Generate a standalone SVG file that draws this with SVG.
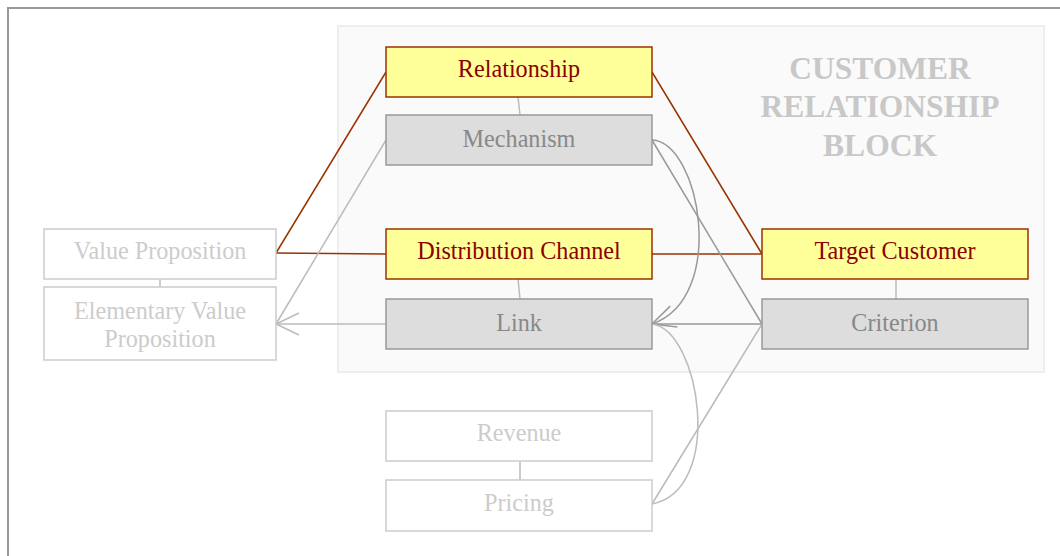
<svg xmlns="http://www.w3.org/2000/svg" width="1060" height="556" viewBox="0 0 1060 556">
<defs>
<style>
text{font-family:"Liberation Serif","Times New Roman",serif;font-size:24.2px;text-anchor:middle}
.hi rect{fill:#ffff99;stroke:#993300;stroke-width:1.5}
.hi text{fill:#8b0000}
.mid rect{fill:#dddddd;stroke:#999999;stroke-width:1.5}
.mid text{fill:#888888}
.lo rect{fill:#ffffff;stroke:#cccccc;stroke-width:1.5}
.lo text{fill:#cccccc}
.title{font-weight:bold;font-size:31.5px;fill:#c8c8c8}
.br{stroke:#993300;stroke-width:1.5;fill:none}
.dk{stroke:#999999;stroke-width:1.5;fill:none}
.lt{stroke:#bbbbbb;stroke-width:1.5;fill:none}
</style>
<marker id="arD" markerUnits="userSpaceOnUse" orient="auto" refX="0" refY="0" markerWidth="30" markerHeight="30" viewBox="-25 -15 30 30" overflow="visible">
<path d="M-23,-11 L0,0 L-23,11" fill="none" stroke="#999999" stroke-width="1.5"/>
</marker>
<marker id="arL" markerUnits="userSpaceOnUse" orient="auto" refX="0" refY="0" markerWidth="30" markerHeight="30" viewBox="-25 -15 30 30" overflow="visible">
<path d="M-23,-11 L0,0 L-23,11" fill="none" stroke="#bbbbbb" stroke-width="1.5"/>
</marker>
</defs>
<rect x="0" y="0" width="1060" height="556" fill="#ffffff"/>
<rect x="8" y="8" width="1100" height="600" fill="none" stroke="#999999" stroke-width="2"/>
<g id="block">
<rect x="338" y="26" width="706" height="346" fill="#fafafa" stroke="#eeeeee" stroke-width="2"/>
<text class="title" x="880" y="79">CUSTOMER</text>
<text class="title" x="880" y="117">RELATIONSHIP</text>
<text class="title" x="880" y="156">BLOCK</text>
</g>
<g id="connectors">
<line class="br" x1="386" y1="72" x2="276" y2="253"/>
<line class="br" x1="386" y1="254" x2="276" y2="253"/>
<line class="br" x1="652" y1="72" x2="762" y2="254"/>
<line class="br" x1="652" y1="254" x2="762" y2="254"/>
<line class="lt" x1="518" y1="97" x2="520" y2="115"/>
<line class="lt" x1="518" y1="279" x2="520" y2="299"/>
<line class="lt" x1="896" y1="279" x2="896" y2="299"/>
<line class="lt" x1="520" y1="461" x2="520" y2="480"/>
<line class="lt" x1="160" y1="279" x2="160" y2="287"/>
<line class="lt" x1="386" y1="140" x2="276" y2="324"/>
<line class="lt" x1="386" y1="324" x2="276" y2="324" marker-end="url(#arL)"/>
<path class="dk" d="M652,140 C700,142 728,298 652,324" marker-end="url(#arD)"/>
<line class="dk" x1="652" y1="140" x2="762" y2="324"/>
<line class="dk" x1="762" y1="324" x2="652" y2="324"/>
<path class="lt" d="M652,324 C700,330 725,490 652,504"/>
<line class="lt" x1="652" y1="504" x2="762" y2="324"/>
</g>
<g id="relationship" class="hi"><rect x="386" y="47" width="266" height="50"/><text x="519" y="77">Relationship</text></g>
<g id="mechanism" class="mid"><rect x="386" y="115" width="266" height="50"/><text x="519" y="146.5">Mechanism</text></g>
<g id="distribution-channel" class="hi"><rect x="386" y="229" width="266" height="50"/><text x="519" y="259">Distribution Channel</text></g>
<g id="link" class="mid"><rect x="386" y="299" width="266" height="50"/><text x="519" y="330.5">Link</text></g>
<g id="target-customer" class="hi"><rect x="762" y="229" width="266" height="50"/><text x="895" y="259">Target Customer</text></g>
<g id="criterion" class="mid"><rect x="762" y="299" width="266" height="50"/><text x="895" y="330.5">Criterion</text></g>
<g id="value-proposition" class="lo"><rect x="44" y="229" width="232" height="50"/><text x="160" y="259">Value Proposition</text></g>
<g id="elementary-value-proposition" class="lo"><rect x="44" y="287" width="232" height="73"/><text x="160" y="319">Elementary Value</text><text x="160" y="347">Proposition</text></g>
<g id="revenue" class="lo"><rect x="386" y="411" width="266" height="50"/><text x="519" y="441">Revenue</text></g>
<g id="pricing" class="lo"><rect x="386" y="480" width="266" height="51"/><text x="519" y="511">Pricing</text></g>
</svg>
